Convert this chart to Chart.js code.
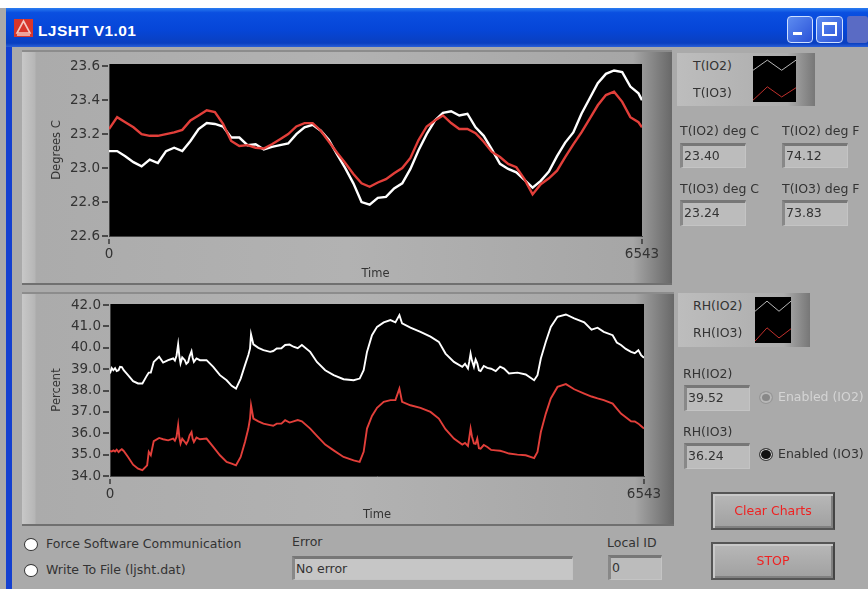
<!DOCTYPE html>
<html>
<head>
<meta charset="utf-8">
<title>LJSHT V1.01</title>
<script src="https://cdn.jsdelivr.net/npm/chart.js@4"></script>
<style>
    html, body { margin: 0; padding: 0; background: #fff; }
    #page { position: relative; width: 868px; height: 589px; overflow: hidden; filter: blur(0.45px); font: 12.5px "DejaVu Sans", sans-serif; color: #333; }
    #page div, #page canvas, #page svg { position: absolute; }
    .lbl { white-space: nowrap; line-height: 16px; }
    .box { background: #bcbcbc; border-top: 3px solid #777; border-left: 3px solid #888; border-bottom: 1px solid #c4c4c4; border-right: 1px solid #c4c4c4; box-sizing: border-box; line-height: 20px; padding-left: 1px; }
    .panel { background: linear-gradient(90deg, #c8c8c8 0, #b6b6b6 13px, #ababab 14px, #b2b2b2 50%, #a6a6a6 94%, #686868 100%); border-top: 2px solid #8c8c8c; border-bottom: 2px solid #707070; box-sizing: border-box; }
    .legend { background: linear-gradient(90deg, #bdbdbd, #adadad 80%, #777 100%); }
    .btn { background: linear-gradient(180deg, #b8b8b8, #a0a0a0); border: 2px solid #555; border-right-color: #444; box-sizing: border-box; box-shadow: inset 2px 2px 0 #c8c8c8, inset -2px -2px 0 #808080; color: #e22; text-align: center; }
    .radio { width: 14px; height: 13px; border-radius: 50%; border: 1px solid #333; background: #fff; box-sizing: border-box; }
    .winbtn { border: 1px solid #cfe0ff; border-radius: 4px; box-sizing: border-box; background: linear-gradient(135deg, #5d8cf0, #2a52d8); }
</style>
</head>
<body>
<div id="page">
    <div style="left:0;top:8px;width:868px;height:581px;background:#aaaaaa"></div>
    <div style="left:6px;top:8px;width:6px;height:581px;background:#1440d0"></div>
    <div style="left:6px;top:8px;width:862px;height:39px;background:linear-gradient(180deg,#2a7cf0 0,#0a4fe0 12%,#0646d8 55%,#0a3fc0 90%,#2a60d8 100%)"></div>
    <div style="left:14px;top:19px;width:19px;height:18px;background:#d8362a"></div>
    <svg style="left:14px;top:19px" width="19" height="18" viewBox="0 0 19 18"><path d="M9.5 2 L16 14 L3 14 Z M3 16 L16 16" fill="none" stroke="#f4c8c0" stroke-width="1.6"/></svg>
    <div class="lbl" style="left:38px;top:22px;color:#fff;font:bold 15.5px 'Liberation Sans',sans-serif;letter-spacing:0.4px">LJSHT V1.01</div>
    <div class="winbtn" style="left:787px;top:16px;width:26px;height:27px"></div>
    <div style="left:793px;top:32px;width:9px;height:3px;background:#fff"></div>
    <div class="winbtn" style="left:816px;top:16px;width:27px;height:27px"></div>
    <div style="left:822px;top:22px;width:15px;height:14px;border:2px solid #fff;border-top-width:3px;box-sizing:border-box"></div>
    <div style="left:847px;top:16px;width:21px;height:27px;background:#5a6bc4;border-radius:3px"></div>

    <div class="panel" style="left:22px;top:50px;width:650px;height:235px"></div>
    <canvas id="tempChart" width="650" height="235" style="left:22px;top:50px"></canvas>
    <div class="panel" style="left:22px;top:292px;width:652px;height:234px"></div>
    <canvas id="rhChart" width="652" height="234" style="left:22px;top:292px"></canvas>

    <div class="legend" style="left:677px;top:53px;width:138px;height:53px"></div>
    <canvas id="tempSwatch" width="43" height="46" style="left:753px;top:56px"></canvas>
    <div class="lbl" style="left:693px;top:58px">T(IO2)</div>
    <div class="lbl" style="left:693px;top:85px">T(IO3)</div>

    <div class="lbl" style="left:680px;top:123px">T(IO2) deg C</div>
    <div class="box" style="left:680px;top:143px;width:66px;height:25px">23.40</div>
    <div class="lbl" style="left:782px;top:123px">T(IO2) deg F</div>
    <div class="box" style="left:782px;top:143px;width:66px;height:25px">74.12</div>
    <div class="lbl" style="left:680px;top:181px">T(IO3) deg C</div>
    <div class="box" style="left:680px;top:200px;width:66px;height:26px">23.24</div>
    <div class="lbl" style="left:782px;top:181px">T(IO3) deg F</div>
    <div class="box" style="left:782px;top:200px;width:66px;height:26px">73.83</div>

    <div class="legend" style="left:678px;top:293px;width:132px;height:54px"></div>
    <canvas id="rhSwatch" width="36" height="46" style="left:755px;top:297px"></canvas>
    <div class="lbl" style="left:693px;top:298px">RH(IO2)</div>
    <div class="lbl" style="left:693px;top:325px">RH(IO3)</div>

    <div class="lbl" style="left:683px;top:366px">RH(IO2)</div>
    <div class="box" style="left:684px;top:385px;width:66px;height:26px">39.52</div>
    <div class="radio" style="left:759px;top:391px;background:#888;border-color:#999;box-shadow:inset 0 0 0 2px #b8b8b8"></div>
    <div class="lbl" style="left:778px;top:389px;color:#d4d4d4">Enabled (IO2)</div>
    <div class="lbl" style="left:683px;top:424px">RH(IO3)</div>
    <div class="box" style="left:684px;top:443px;width:66px;height:26px">36.24</div>
    <div class="radio" style="left:759px;top:448px;background:#111;border-color:#444;box-shadow:inset 0 0 0 1px #ddd"></div>
    <div class="lbl" style="left:778px;top:446px">Enabled (IO3)</div>

    <div class="btn" style="left:711px;top:492px;width:124px;height:38px;line-height:34px">Clear Charts</div>
    <div class="btn" style="left:711px;top:542px;width:124px;height:38px;line-height:34px">STOP</div>

    <div class="radio" style="left:24px;top:538px"></div>
    <div class="lbl" style="left:46px;top:536px">Force Software Communication</div>
    <div class="radio" style="left:24px;top:564px"></div>
    <div class="lbl" style="left:46px;top:562px">Write To File (ljsht.dat)</div>
    <div class="lbl" style="left:292px;top:534px">Error</div>
    <div class="box" style="left:292px;top:556px;width:281px;height:24px;background:#c6c6c6">No error</div>
    <div class="lbl" style="left:607px;top:535px">Local ID</div>
    <div class="box" style="left:608px;top:555px;width:54px;height:25px">0</div>
</div>

<script>
const timeRange = [0, 6543];
const tempTicks = [22.6, 22.8, 23.0, 23.2, 23.4, 23.6];
const rhTicks = [34, 35, 36, 37, 38, 39, 40, 41, 42];

const tempTimes = [
    0, 100, 200, 300, 400, 500, 600, 700, 800, 900,
    1000, 1100, 1200, 1300, 1400, 1500, 1600, 1700, 1800, 1900,
    2000, 2100, 2200, 2300, 2400, 2500, 2600, 2700, 2800, 2900,
    3000, 3100, 3200, 3300, 3400, 3500, 3600, 3700, 3800, 3900,
    4000, 4100, 4200, 4300, 4400, 4500, 4600, 4700, 4800, 4900,
    5000, 5100, 5200, 5300, 5400, 5500, 5600, 5700, 5800, 5900,
    6000, 6100, 6200, 6300, 6400, 6500, 6543
];
const tempIO2 = [
    23.10, 23.10, 23.07, 23.035, 23.01, 23.05, 23.03, 23.10, 23.12, 23.10,
    23.16, 23.23, 23.265, 23.26, 23.245, 23.18, 23.18, 23.135, 23.14, 23.11,
    23.125, 23.135, 23.145, 23.20, 23.24, 23.255, 23.22, 23.165, 23.08, 23.00,
    22.91, 22.80, 22.785, 22.825, 22.83, 22.88, 22.91, 22.995, 23.105, 23.20,
    23.28, 23.325, 23.335, 23.31, 23.32, 23.24, 23.19, 23.11, 23.025, 22.995,
    22.975, 22.93, 22.885, 22.925, 22.98, 23.07, 23.15, 23.21, 23.32, 23.41,
    23.50, 23.555, 23.575, 23.565, 23.48, 23.44, 23.40
];
const tempIO3 = [
    23.23, 23.30, 23.27, 23.24, 23.20, 23.19, 23.19, 23.20, 23.21, 23.225,
    23.28, 23.31, 23.34, 23.33, 23.26, 23.16, 23.13, 23.135, 23.12, 23.115,
    23.14, 23.17, 23.20, 23.245, 23.265, 23.265, 23.22, 23.155, 23.09, 23.03,
    22.965, 22.91, 22.89, 22.915, 22.935, 22.97, 23.00, 23.06, 23.165, 23.245,
    23.28, 23.31, 23.265, 23.23, 23.23, 23.205, 23.155, 23.095, 23.065, 23.025,
    23.005, 22.935, 22.845, 22.905, 22.94, 22.985, 23.065, 23.14, 23.21, 23.29,
    23.37, 23.43, 23.45, 23.39, 23.30, 23.27, 23.24
];

const rhTimes = [
    0, 21, 41, 62, 82, 105, 123, 145, 168, 221,
    283, 344, 397, 455, 475, 500, 536, 602, 651, 713,
    774, 795, 815, 835, 850, 864, 885, 917, 935, 958,
    975, 999, 1012, 1028, 1060, 1102, 1183, 1265, 1347, 1429,
    1491, 1544, 1601, 1654, 1695, 1716, 1728, 1757, 1818, 1880,
    1962, 2000, 2043, 2100, 2146, 2200, 2248, 2300, 2351, 2453,
    2535, 2637, 2740, 2862, 2985, 3059, 3108, 3149, 3210, 3272,
    3354, 3436, 3497, 3546, 3579, 3681, 3804, 3927, 4029, 4111,
    4214, 4316, 4350, 4386, 4402, 4418, 4435, 4459, 4480, 4500,
    4520, 4541, 4580, 4623, 4670, 4726, 4780, 4828, 4889, 4992,
    5094, 5197, 5238, 5279, 5340, 5401, 5483, 5586, 5688, 5811,
    5900, 5974, 6050, 6159, 6210, 6261, 6320, 6384, 6430, 6474,
    6507, 6543
];
const rhIO2 = [
    38.80, 39.05, 38.95, 39.05, 38.91, 38.95, 39.11, 39.10, 38.95, 38.72,
    38.44, 38.33, 38.33, 38.72, 38.84, 38.84, 39.34, 39.58, 39.31, 39.42,
    39.50, 39.40, 39.63, 40.16, 39.60, 39.27, 39.55, 39.42, 39.25, 39.34,
    39.60, 39.84, 39.55, 39.34, 39.50, 39.42, 39.42, 39.11, 38.72, 38.48,
    38.22, 38.09, 38.56, 39.19, 39.66, 39.97, 40.63, 40.16, 40.00, 39.89,
    39.81, 39.85, 39.97, 39.98, 40.13, 40.15, 40.05, 39.98, 40.13, 39.81,
    39.34, 38.95, 38.72, 38.53, 38.48, 38.56, 38.95, 39.81, 40.59, 40.98,
    41.19, 41.30, 41.19, 41.53, 41.14, 40.94, 40.75, 40.52, 40.28, 39.73,
    39.34, 39.11, 39.25, 39.03, 39.35, 39.73, 39.40, 39.11, 39.45, 39.27,
    38.95, 38.91, 39.15, 39.06, 39.02, 38.91, 39.12, 39.03, 38.80, 38.84,
    38.75, 38.48, 38.72, 39.50, 40.28, 40.98, 41.45, 41.56, 41.38, 41.19,
    40.85, 40.94, 40.75, 40.59, 40.25, 40.13, 39.95, 39.81, 39.75, 39.89,
    39.66, 39.53
];
const rhIO3 = [
    35.17, 35.15, 35.20, 35.15, 35.23, 35.12, 35.19, 35.25, 35.17, 34.89,
    34.53, 34.34, 34.27, 34.50, 35.13, 34.97, 35.63, 35.78, 35.72, 35.67,
    35.75, 35.65, 35.83, 36.38, 35.80, 35.52, 35.75, 35.59, 35.50, 35.67,
    35.90, 36.06, 35.75, 35.59, 35.80, 35.72, 35.75, 35.36, 34.97, 34.66,
    34.58, 34.50, 34.89, 35.59, 36.22, 36.69, 37.31, 36.69, 36.56, 36.45,
    36.38, 36.35, 36.45, 36.45, 36.61, 36.50, 36.56, 36.62, 36.56, 36.22,
    35.88, 35.47, 35.20, 34.89, 34.73, 34.66, 35.13, 36.22, 36.81, 37.19,
    37.47, 37.55, 37.55, 38.09, 37.47, 37.31, 37.19, 37.00, 36.69, 36.19,
    35.75, 35.47, 35.55, 35.41, 35.80, 36.22, 35.85, 35.52, 35.50, 35.75,
    35.30, 35.28, 35.45, 35.36, 35.22, 35.20, 35.18, 35.13, 35.05, 35.00,
    34.97, 34.84, 35.13, 36.06, 36.92, 37.63, 38.17, 38.30, 38.06, 37.86,
    37.72, 37.63, 37.55, 37.39, 37.15, 36.92, 36.75, 36.56, 36.55, 36.45,
    36.34, 36.22
];

// small wave shown in the legend boxes
const swatchLabels = ['a', 'b', 'c', 'd'];
const swatchUpper = [6.9, 9.1, 6.9, 9.1];
const swatchLower = [0.4, 3.3, 1.1, 3.1];

const lineWhite = '#ffffff';
const lineRed = '#e23f3a';
const tickColor = '#333333';
const tickFont = { family: 'DejaVu Sans', size: 13.5 };
const titleFont = { family: 'DejaVu Sans', size: 11.5 };
const blackPlot = {
    id: 'blackPlot',
    beforeDraw(chart) {
        const { ctx, chartArea: a } = chart;
        ctx.fillStyle = '#000';
        ctx.fillRect(a.left, a.top, a.right - a.left, a.bottom - a.top);
    }
};
// tick dashes like the LabVIEW scale, placed from the chart's own scales
const tickDashes = {
    id: 'tickDashes',
    afterDraw(chart) {
        const { ctx, chartArea: a, scales } = chart;
        ctx.save();
        ctx.strokeStyle = '#2a2a2a';
        ctx.lineWidth = 1.3;
        ctx.beginPath();
        scales.y.ticks.forEach(t => {
            const y = Math.round(scales.y.getPixelForValue(t.value));
            ctx.moveTo(a.left - 7, y);
            ctx.lineTo(a.left - 1, y);
        });
        scales.x.ticks.forEach(t => {
            const x = Math.round(scales.x.getPixelForValue(t.value));
            ctx.moveTo(x, a.bottom + 3);
            ctx.lineTo(x, a.bottom + 8);
        });
        ctx.stroke();
        ctx.restore();
    }
};

function toPoints(times, values) {
    return times.map((t, i) => ({ x: t, y: values[i] }));
}

function drawStrip(id, cfg) {
    new Chart(document.getElementById(id).getContext('2d'), {
        type: 'line',
        plugins: [blackPlot, tickDashes],
        data: {
            datasets: [
                { data: toPoints(cfg.times, cfg.red), borderColor: lineRed, borderWidth: cfg.width },
                { data: toPoints(cfg.times, cfg.white), borderColor: lineWhite, borderWidth: cfg.width }
            ]
        },
        options: {
            responsive: false,
            animation: false,
            elements: { point: { radius: 0 }, line: { tension: 0 } },
            layout: { padding: { left: 28, right: cfg.right, top: cfg.top, bottom: 0 } },
            plugins: { legend: { display: false }, tooltip: { enabled: false } },
            scales: {
                x: {
                    type: 'linear',
                    min: timeRange[0],
                    max: timeRange[1],
                    afterBuildTicks: (axis) => { axis.ticks = timeRange.map(v => ({ value: v })); },
                    afterFit: (axis) => { axis.height = cfg.xHeight; },
                    ticks: { color: tickColor, font: tickFont, padding: 3, maxRotation: 0, autoSkip: false, callback: v => String(v) },
                    grid: { display: false, tickLength: 7 },
                    border: { color: '#444' },
                    title: { display: true, text: 'Time', color: tickColor, font: titleFont, padding: { top: 0, bottom: 4 } }
                },
                y: {
                    min: cfg.yMin,
                    max: cfg.yMax,
                    afterBuildTicks: (axis) => { axis.ticks = cfg.ticks.map(v => ({ value: v })); },
                    afterFit: (axis) => { axis.width = cfg.yWidth; },
                    ticks: { color: tickColor, font: tickFont, padding: 2, autoSkip: false, callback: v => v.toFixed(1) },
                    grid: { display: false, tickLength: 7 },
                    border: { color: '#444' },
                    title: { display: true, text: cfg.yTitle, color: tickColor, font: titleFont, padding: 0 }
                }
            }
        }
    });
}

function drawSwatch(id) {
    new Chart(document.getElementById(id).getContext('2d'), {
        type: 'line',
        plugins: [blackPlot],
        data: {
            labels: swatchLabels,
            datasets: [
                { data: swatchUpper, borderColor: '#b8b8b8', borderWidth: 1 },
                { data: swatchLower, borderColor: '#c0302c', borderWidth: 1 }
            ]
        },
        options: {
            responsive: false,
            animation: false,
            elements: { point: { radius: 0 } },
            plugins: { legend: { display: false }, tooltip: { enabled: false } },
            scales: {
                x: { display: false },
                y: { display: false, min: 0, max: 10 }
            }
        }
    });
}

document.addEventListener('DOMContentLoaded', () => {
    drawStrip('tempChart', {
        times: tempTimes, white: tempIO2, red: tempIO3, width: 2.4,
        ticks: tempTicks, yMin: 22.6, yMax: 23.613, yTitle: 'Degrees C',
        yWidth: 59, right: 30, top: 14, xHeight: 49
    });
    drawStrip('rhChart', {
        times: rhTimes, white: rhIO2, red: rhIO3, width: 1.9,
        ticks: rhTicks, yMin: 34, yMax: 42.05, yTitle: 'Percent',
        yWidth: 60, right: 30, top: 12, xHeight: 50
    });
    drawSwatch('tempSwatch');
    drawSwatch('rhSwatch');
});
</script>
</body>
</html>
